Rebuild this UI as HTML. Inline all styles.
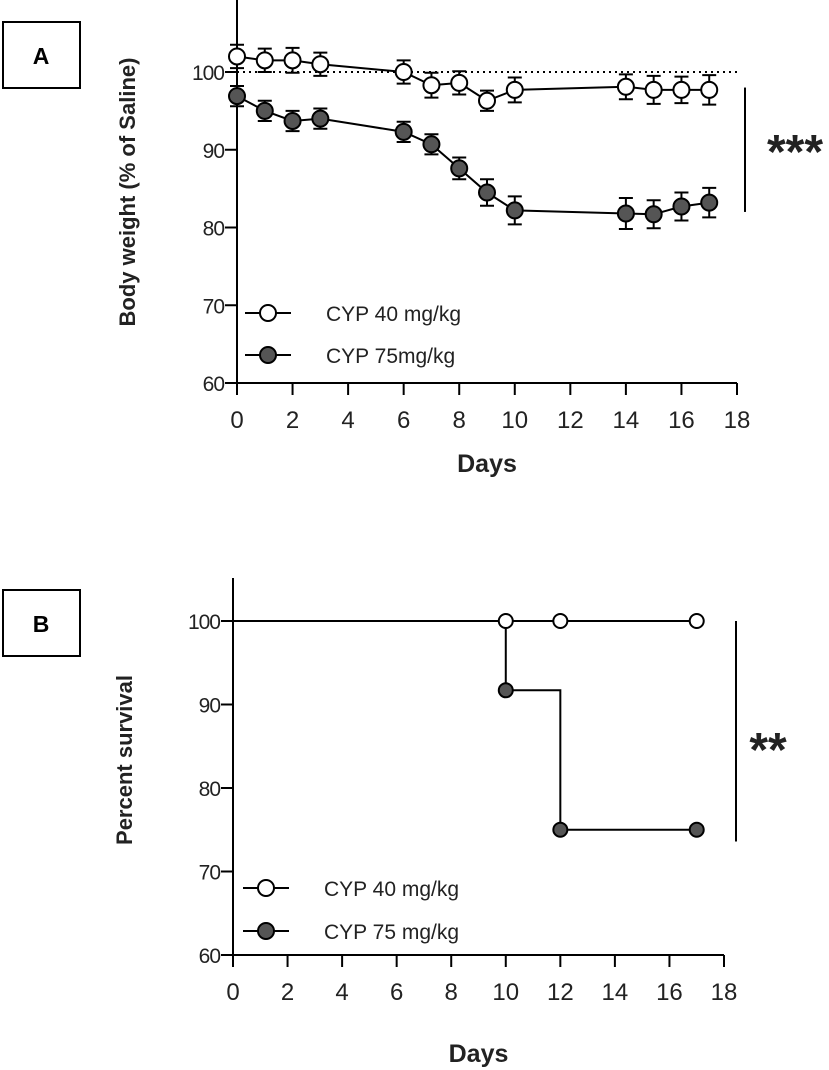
<!DOCTYPE html>
<html><head><meta charset="utf-8"><style>
body{margin:0;background:#fff}
svg{display:block;font-family:"Liberation Sans",Arial,sans-serif}
</style></head><body>
<svg id="fig" width="829" height="1070" viewBox="0 0 829 1070"></svg>
<script>
const daysA=[0,1,2,3,6,7,8,9,10,14,15,16,17];
const cyp40A=[102,101.5,101.5,101,100,98.3,98.6,96.3,97.7,98.1,97.7,97.7,97.7];
const cyp40Err=[1.5,1.5,1.6,1.5,1.5,1.6,1.5,1.3,1.6,1.6,1.8,1.7,1.9];
const cyp75A=[96.9,95,93.7,94,92.3,90.7,87.6,84.5,82.2,81.8,81.7,82.7,83.2];
const cyp75Err=[1.3,1.3,1.3,1.3,1.3,1.3,1.4,1.7,1.8,2.0,1.8,1.8,1.9];
const xTicks=[0,2,4,6,8,10,12,14,16,18];
const yTicks=[60,70,80,90,100];
const daysB40=[0,10,12,17];
const surv40=[100,100,100,100];
const markB40=[10,12,17];
const daysB75=[0,10,12,17];
const surv75=[100,91.7,75,75];
const markB75=[10,12,17];

const NS="http://www.w3.org/2000/svg";
const svg=document.getElementById('fig');
function mk(tag,attrs,parent){const e=document.createElementNS(NS,tag);for(const k in attrs)e.setAttribute(k,attrs[k]);(parent||svg).appendChild(e);return e;}
function txt(s,attrs,parent){const e=mk('text',attrs,parent);e.textContent=s;return e;}

function panel(cfg){
  const g=mk('g',{});
  
  
  const X=v=>cfg.x0+(v-0)*(cfg.x1-cfg.x0)/18;
  const Y=v=>cfg.y60+(v-60)*(cfg.y100-cfg.y60)/40;
  const ya=mk('line',{x1:X(0),y1:cfg.top,x2:X(0),y2:Y(60)+12,stroke:'#000','stroke-width':2},g);
  
  const xa=mk('line',{x1:X(0)-12,y1:Y(60),x2:X(18),y2:Y(60),stroke:'#000','stroke-width':2},g);
  
  yTicks.forEach(t=>{
    mk('line',{x1:X(0)-12,y1:Y(t),x2:X(0),y2:Y(t),stroke:'#000','stroke-width':2},g);
    const l=txt(String(t),{x:X(0)-13,y:Y(t)+8,'text-anchor':'end','font-size':21,fill:'#222','letter-spacing':-1},g);
    
  });
  xTicks.forEach(t=>{
    mk('line',{x1:X(t),y1:Y(60),x2:X(t),y2:Y(60)+12,stroke:'#000','stroke-width':2},g);
    const l=txt(String(t),{x:X(t),y:Y(60)+cfg.xlab,'text-anchor':'middle','font-size':24,fill:'#222'},g);
    
  });
  const xt=txt('Days',{x:(X(0)+X(18))/2,y:cfg.daysY,'text-anchor':'middle','font-size':25,'font-weight':'bold',fill:'#222'},g);
  
  const yt=txt(cfg.ytitle,{x:0,y:0,'text-anchor':'middle','font-size':22,'font-weight':'bold',fill:'#222',transform:`translate(${cfg.ytx},${cfg.yty}) rotate(-90)`},g);
  
  const b=mk('rect',{x:3,y:cfg.boxY,width:77,height:66,fill:'#fff',stroke:'#000','stroke-width':2},g);
  
  const bl=txt(cfg.letter,{x:41,y:cfg.boxY+42,'text-anchor':'middle','font-size':23,'font-weight':'bold'},g);
  
  const sb=mk('line',{x1:cfg.sigX,y1:Y(cfg.sigTop),x2:cfg.sigX,y2:Y(cfg.sigBot),stroke:'#000','stroke-width':2},g);
  
  const st=txt(cfg.stars,{x:cfg.starX,y:cfg.starY,'text-anchor':'middle','font-size':48,'font-weight':'bold',fill:'#222'},g);
  
  [['#fff',cfg.leg1,cfg.legY1],['#555',cfg.leg2,cfg.legY2]].forEach(([f,s,y],i)=>{
    mk('line',{x1:cfg.legX,y1:y,x2:cfg.legX+46,y2:y,stroke:'#000','stroke-width':2},g);
    mk('circle',{cx:cfg.legX+23,cy:y,r:8,fill:f,stroke:'#000','stroke-width':2},g);
    const t=txt(s,{x:cfg.legX+81,y:y+8,'font-size':21,fill:'#222'},g);
    
  });
  return {g,X,Y};
}

const A=panel({name:'panel-a',x0:237,x1:737,y60:383,y100:72,top:0,xlab:45,daysY:472,ytitle:'Body weight (% of Saline)',ytx:135,yty:192,letter:'A',boxY:22,sigX:745,sigTop:98,sigBot:82,stars:'***',starX:795,starY:168,leg1:'CYP 40 mg/kg',leg2:'CYP 75mg/kg',legX:245,legY1:313,legY2:355});
const ref=mk('line',{x1:A.X(0),y1:A.Y(100),x2:A.X(18),y2:A.Y(100),stroke:'#000','stroke-width':2,'stroke-dasharray':'2,4'},A.g);


function series(P,xs,ys,es,fill,name){
  const pl=mk('polyline',{points:xs.map((d,i)=>P.X(d)+','+P.Y(ys[i])).join(' '),fill:'none',stroke:'#000','stroke-width':2},P.g);
  
  xs.forEach((d,i)=>{
    const x=P.X(d),y1=P.Y(ys[i]-es[i]),y2=P.Y(ys[i]+es[i]);
    mk('path',{d:`M${x},${y1}V${y2}M${x-7},${y1}H${x+7}M${x-7},${y2}H${x+7}`,stroke:'#000','stroke-width':2},P.g);
    const c=mk('circle',{cx:x,cy:P.Y(ys[i]),r:8,fill:fill,stroke:'#000','stroke-width':2},P.g);
    
  });
}
series(A,daysA,cyp40A,cyp40Err,'#fff','cyp40');
series(A,daysA,cyp75A,cyp75Err,'#555','cyp75');

const B=panel({name:'panel-b',x0:233,x1:724,y60:955,y100:621,top:578,xlab:45,daysY:1062,ytitle:'Percent survival',ytx:132,yty:760,letter:'B',boxY:590,sigX:736,sigTop:100,sigBot:73.6,stars:'**',starX:768,starY:766,leg1:'CYP 40 mg/kg',leg2:'CYP 75 mg/kg',legX:243,legY1:888,legY2:931});
function km(P,xs,ys,marks,fill,name){
  let d=`M${P.X(xs[0])},${P.Y(ys[0])}`;
  for(let i=1;i<xs.length;i++){d+=`H${P.X(xs[i])}V${P.Y(ys[i])}`;}
  const p=mk('path',{d:d,fill:'none',stroke:'#000','stroke-width':2},P.g);
  
  marks.forEach(m=>{
    const i=xs.indexOf(m);
    const c=mk('circle',{cx:P.X(m),cy:P.Y(ys[i]),r:7,fill:fill,stroke:'#000','stroke-width':2},P.g);
    
  });
}
km(B,daysB75,surv75,markB75,'#555','cyp75');
km(B,daysB40,surv40,markB40,'#fff','cyp40');
</script>
</body></html>
